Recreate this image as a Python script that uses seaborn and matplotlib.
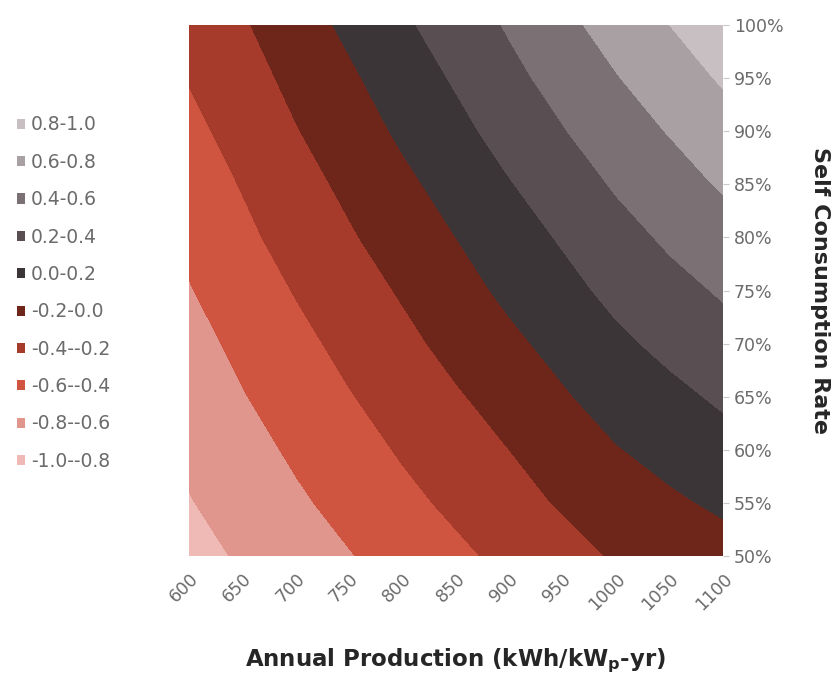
import numpy as np
import pandas as pd
import seaborn as sns
import matplotlib.pyplot as plt
from matplotlib.patches import Patch

# annual production (kWh/kWp-yr) on x, self consumption rate on y
production = [600, 650, 700, 750, 800, 850, 900, 950, 1000, 1050, 1100]
self_consumption = [0.50, 0.55, 0.60, 0.65, 0.70, 0.75, 0.80, 0.85, 0.90, 0.95, 1.00]

# one row per self consumption rate (50% -> 100%)
z_50 = [-0.86, -0.78, -0.69, -0.61, -0.52, -0.44, -0.35, -0.27, -0.18, -0.12, -0.07]
z_55 = [-0.81, -0.72, -0.63, -0.54, -0.45, -0.36, -0.27, -0.18, -0.09, -0.03, 0.03]
z_60 = [-0.76, -0.67, -0.57, -0.48, -0.38, -0.29, -0.20, -0.10, -0.01, 0.06, 0.13]
z_65 = [-0.71, -0.61, -0.51, -0.41, -0.32, -0.22, -0.12, -0.02, 0.08, 0.15, 0.23]
z_70 = [-0.66, -0.56, -0.45, -0.35, -0.25, -0.14, -0.04, 0.06, 0.16, 0.25, 0.33]
z_75 = [-0.61, -0.50, -0.39, -0.29, -0.18, -0.07, 0.04, 0.14, 0.25, 0.34, 0.42]
z_80 = [-0.56, -0.44, -0.33, -0.22, -0.11, 0.00, 0.11, 0.22, 0.33, 0.43, 0.52]
z_85 = [-0.50, -0.39, -0.27, -0.16, -0.04, 0.07, 0.19, 0.30, 0.42, 0.52, 0.62]
z_90 = [-0.45, -0.33, -0.21, -0.09, 0.03, 0.15, 0.27, 0.39, 0.51, 0.61, 0.72]
z_95 = [-0.39, -0.28, -0.15, -0.03, 0.10, 0.22, 0.35, 0.47, 0.59, 0.71, 0.82]
z_100 = [-0.34, -0.22, -0.09, 0.04, 0.17, 0.29, 0.42, 0.55, 0.68, 0.80, 0.92]

levels = [-1.0, -0.8, -0.6, -0.4, -0.2, 0.0, 0.2, 0.4, 0.6, 0.8, 1.0]
band_labels = ['-1.0--0.8', '-0.8--0.6', '-0.6--0.4', '-0.4--0.2', '-0.2-0.0',
               '0.0-0.2', '0.2-0.4', '0.4-0.6', '0.6-0.8', '0.8-1.0']
band_colors = ['#efb9b5', '#e0968c', '#d05541', '#a63b2b', '#6d2619',
               '#3b3537', '#594e52', '#7b7074', '#a9a0a4', '#c8bfc2']

grid = pd.DataFrame([z_50, z_55, z_60, z_65, z_70, z_75, z_80, z_85, z_90, z_95, z_100],
                    index=self_consumption, columns=production)

sns.set_style('white')
plt.rcParams['font.family'] = ['DejaVu Sans']
txt_gray = '#6b6b6b'

fig = plt.figure(figsize=(8.39, 6.77), dpi=100)
ax = fig.add_axes([0.2253, 0.1787, 0.8617 - 0.2253, 0.9631 - 0.1787])

X, Y = np.meshgrid(grid.columns.values, grid.index.values)
ax.contourf(X, Y, grid.values, levels=levels, colors=band_colors)

ax.set_xlim(600, 1100)
ax.set_ylim(0.5, 1.0)
for s in ax.spines.values():
    s.set_visible(False)

ax.set_xticks(production)
ax.set_xticklabels([str(p) for p in production], rotation=45, ha='right',
                   rotation_mode='anchor', fontsize=12.5, color=txt_gray)
ax.yaxis.tick_right()
ax.yaxis.set_label_position('right')
ax.set_yticks(self_consumption)
ax.set_yticklabels([f'{int(round(v*100))}%' for v in self_consumption],
                   fontsize=12.5, color=txt_gray)
ax.tick_params(axis='both', length=4, width=0.8, color='#c8c8c8', pad=4)
ax.tick_params(axis='x', pad=6)

ax.set_xlabel(r'Annual Production (kWh/kW$_\mathbf{p}$-yr)', fontsize=16.5,
              fontweight='bold', color='#262626', labelpad=24)
ax.set_ylabel('Self Consumption Rate', fontsize=16, fontweight='bold',
              color='#262626', rotation=270, labelpad=33)

handles = [Patch(facecolor=c, edgecolor='none') for c in band_colors[::-1]]
fig.legend(handles, band_labels[::-1], loc='center left', bbox_to_anchor=(0.0, 0.567),
           frameon=False, fontsize=13.5, labelcolor=txt_gray, handlelength=0.45,
           handleheight=0.45, handletextpad=0.3, labelspacing=0.98)

plt.savefig('out.png', dpi=100)
